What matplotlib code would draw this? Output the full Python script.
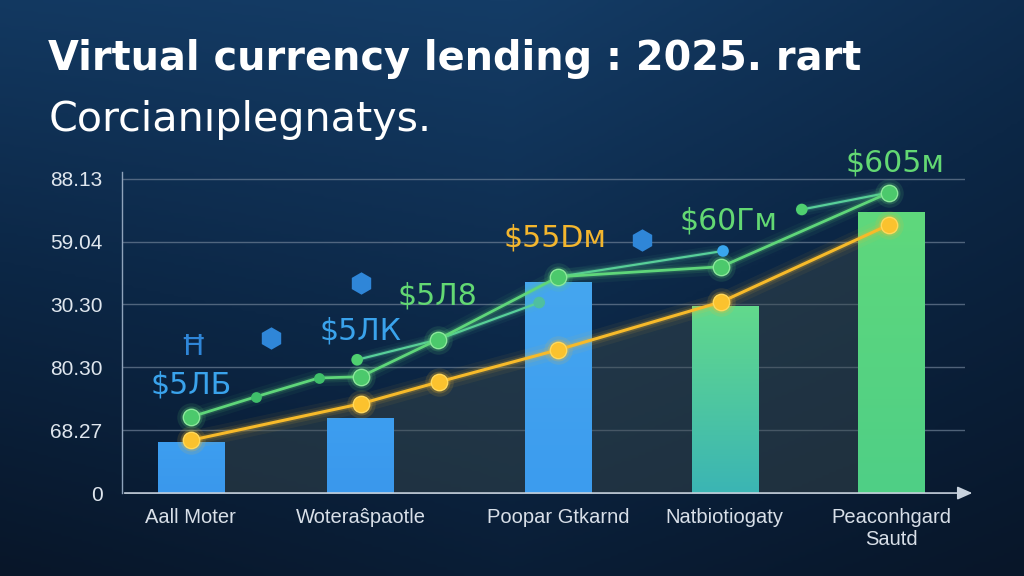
import matplotlib.pyplot as plt
import numpy as np
from matplotlib.colors import LinearSegmentedColormap

# data
categories = ["Aall Moter", "Woteraŝpaotle", "Poopar Gtkarnd", "Natbiotiogaty", "Peaconhgard\nSautd"]
bar_x = [0, 0.97, 2.10, 3.05, 4.0]
bar_h = [0.80, 1.19, 3.34, 2.96, 4.46]
bar_top = ["#3d9ef0", "#3d9ef0", "#45a6f0", "#62d98c", "#5fd87c"]
bar_bot = ["#3a98ec", "#3a98ec", "#3c9cee", "#3bb5b4", "#4fcf86"]

y_ticks = [0, 1, 2, 3, 4, 5]
y_labels = ["0", "68.27", "80.30", "30.30", "59.04", "88.13"]

yellow_x = [0, 0.97, 1.42, 2.10, 3.03, 3.99]
yellow_y = [0.84, 1.42, 1.77, 2.28, 3.04, 4.27]

green_x = [0, 0.37, 0.73, 0.97, 1.41, 2.10, 3.03, 3.99]
green_y = [1.21, 1.53, 1.83, 1.85, 2.44, 3.44, 3.60, 4.78]
green_big = [True, False, False, True, True, True, True, True]

thin_segments = [([0.95, 1.41, 1.99], [2.12, 2.44, 3.03]),
                 ([2.10, 3.04], [3.44, 3.85]),
                 ([3.49, 3.99], [4.51, 4.78])]
small_dots_x = [0.95, 1.99, 3.04, 3.49]
small_dots_y = [2.12, 3.03, 3.85, 4.51]
small_dots_c = ["#4fd070", "#4fbfa0", "#39a6ee", "#4fd070"]

value_labels = ["$5ЛБ", "$5ЛК", "$5Л8", "$55Dм", "$60Гм", "$605м"]
label_x = [0.0, 0.97, 1.41, 2.08, 3.07, 4.02]
label_y = [1.72, 2.58, 3.14, 4.06, 4.32, 5.25]
label_c = ["#3aa3ec", "#3aa3ec", "#63d873", "#f3b62e", "#63d873", "#63d873"]

icon_x = [0.46, 0.97, 2.58]
icon_y = [2.47, 3.34, 4.03]

BLUE = "#3aa3ec"
GREEN = "#5fd67a"
YELLOW = "#f7ba2a"

fig = plt.figure(figsize=(10.24, 5.76), dpi=100)

# background gradient
bg = fig.add_axes([0, 0, 1, 1])
yy, xx = np.mgrid[0:1:200j, 0:1:300j]
shade = 0.55 * yy + 0.25 * (1 - xx) * yy + 0.2 * (1 - np.abs(xx - 0.5) * 2)
bg_cmap = LinearSegmentedColormap.from_list("bg", ["#081629", "#0c2746", "#143c66"])
bg.imshow(shade, cmap=bg_cmap, aspect="auto", origin="lower", extent=[0, 1, 0, 1])
bg.axis("off")

ax = fig.add_axes([0.119, 0.144, 0.823, 0.596])
ax.set_xlim(-0.394, 4.42)
ax.set_ylim(0, 5.46)
ax.patch.set_alpha(0)
for s in ["top", "right", "bottom"]:
    ax.spines[s].set_visible(False)
ax.spines["left"].set_color("#8fa3bb")
ax.spines["left"].set_linewidth(1)
ax.spines["left"].set_bounds(0, 5.1)

ax.set_yticks(y_ticks)
ax.set_yticklabels(y_labels, fontsize=15, color="#dfe6ee", family="Liberation Sans")
ax.tick_params(axis="y", length=0, pad=14)
ax.set_xticks(bar_x)
ax.set_xticklabels(categories, fontsize=14.5, color="#d8dfe8", family="Liberation Sans")
ax.tick_params(axis="x", length=0, pad=11)
for t in y_ticks[1:]:
    ax.axhline(t, color="#6e8096", lw=1, alpha=0.7, zorder=1)

# x axis with arrow
ax.annotate("", xy=(4.48, 0), xytext=(-0.394, 0), annotation_clip=False,
            arrowprops=dict(arrowstyle="-|>,head_length=0.9,head_width=0.4", color="#c8d2de", lw=1.2))

# fill under yellow line
ax.fill_between(yellow_x, yellow_y, 0, color="#3a4a4c", alpha=0.45, zorder=1.5, lw=0)

# bars with vertical gradient
for x, h, ct, cb in zip(bar_x, bar_h, bar_top, bar_bot):
    cm = LinearSegmentedColormap.from_list("b", [cb, ct])
    grad = np.linspace(0, 1, 100).reshape(-1, 1)
    ax.imshow(grad, cmap=cm, aspect="auto", origin="lower",
              extent=[x - 0.19, x + 0.19, 0, h], zorder=2)

# glow helper
def glow_line(xs, ys, color, lw, z):
    for w, a in [(lw * 6, 0.06), (lw * 3.5, 0.10), (lw * 2, 0.18)]:
        ax.plot(xs, ys, color=color, lw=w, alpha=a, zorder=z, solid_capstyle="round")
    ax.plot(xs, ys, color=color, lw=lw, zorder=z + 0.1)

glow_line(yellow_x, yellow_y, YELLOW, 2.2, 4)
glow_line(green_x, green_y, GREEN, 2.0, 5)
for sx, sy in thin_segments:
    glow_line(sx, sy, "#58cf9a", 1.6, 4.5)

# markers
for s, a in [(420, 0.12), (250, 0.22)]:
    ax.scatter(yellow_x, yellow_y, s=s, color=YELLOW, alpha=a, zorder=6, lw=0)
ax.scatter(yellow_x, yellow_y, s=140, color="#fbc22e", edgecolor="#ffd85a", lw=1, zorder=6.5)

gbx = [x for x, b in zip(green_x, green_big) if b]
gby = [y for y, b in zip(green_y, green_big) if b]
gsx = [x for x, b in zip(green_x, green_big) if not b]
gsy = [y for y, b in zip(green_y, green_big) if not b]
for s, a in [(420, 0.12), (250, 0.22)]:
    ax.scatter(gbx, gby, s=s, color=GREEN, alpha=a, zorder=6, lw=0)
ax.scatter(gbx, gby, s=140, color="#4cc96c", edgecolor="#8be89a", lw=1, zorder=6.5)
ax.scatter(gsx, gsy, s=60, color="#3fbf6a", zorder=6.5, lw=0)
ax.scatter(small_dots_x, small_dots_y, s=70, c=small_dots_c, zorder=6.5, lw=0)

# blue decorative icons
ax.scatter(icon_x, icon_y, s=260, marker="h", color="#2f86d8", zorder=3, lw=0)
ax.text(0.01, 2.33, "Ħ", color="#2f86d8", fontsize=20, ha="center", va="center", zorder=3)

# value labels
for t, x, y, c in zip(value_labels, label_x, label_y, label_c):
    ax.text(x, y, t, color=c, fontsize=21.5, ha="center", va="center",
            family="DejaVu Sans", zorder=7)

# titles
fig.text(0.047, 0.879, "Virtual currency lending : 2025. rart", fontsize=28.7, fontweight="bold",
         color="white", family="DejaVu Sans", va="baseline")
fig.text(0.047, 0.773, "Corcianıplegnatys.", fontsize=29.7, color="white",
         family="DejaVu Sans", va="baseline")

fig.savefig("out.png", dpi=100)
